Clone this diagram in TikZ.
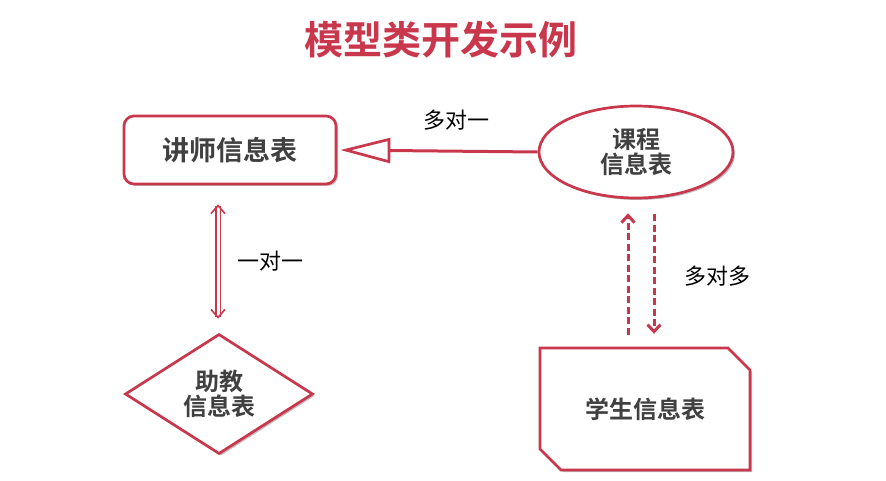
\documentclass[tikz,border=0pt]{standalone}
\usepackage{fontspec}
\setmainfont{Noto Sans CJK SC}
\newfontfamily\cjkb{Noto Sans CJK SC Bold}
\usetikzlibrary{shapes.geometric,arrows.meta,shadows}
\definecolor{myred}{HTML}{C9374C}
\definecolor{mygray}{HTML}{404040}
\tikzset{
  myshadow/.style={drop shadow={shadow xshift=2pt, shadow yshift=-2pt, opacity=0.25, fill=black}},
  entity/.style={draw=myred, line width=2.7pt, fill=white, text=mygray,
    font=\cjkb\fontsize{24}{27}\selectfont, align=center, inner sep=0pt, myshadow},
  lbl/.style={font=\fontsize{22}{24}\selectfont, text=black},
  link/.style={draw=myred, line width=3pt}
}
\begin{document}
\begin{tikzpicture}[x=1pt,y=-1pt]
\useasboundingbox (0,0) rectangle (886,481);
\node[font=\cjkb\fontsize{39}{40}\selectfont, text=myred] (title) at (441,40) {模型类开发示例};
\node[entity, rounded corners=10pt, minimum width=212pt, minimum height=68pt, font=\cjkb\fontsize{27}{30}\selectfont] (a) at (230,150) {讲师信息表};
\node[entity, ellipse, minimum width=194pt, minimum height=92pt] (b) at (636,152) {课程\\[-2pt]信息表};
\node[entity, diamond, minimum width=188pt, minimum height=120pt] (c) at (219,394) {助教\\[-2pt]信息表};
% student table: chamfered box
\path[draw=myred, line width=2.7pt, fill=white, myshadow]
  (540,348) -- (728,348) -- (750,370) -- (750,470) -- (561,470) -- (540,449) -- cycle;
\node[text=mygray, font=\cjkb\fontsize{24}{27}\selectfont, minimum width=210pt, minimum height=122pt, inner sep=0pt] (d) at (645,409) {学生信息表};
\draw[link, -{Triangle[open, length=50pt, width=25pt, fill=white, line width=2.7pt]}, shorten >=3pt] (b.west) -- (a.east);
\node[lbl] (l1) at (456,120) {多对一};
\draw[draw=myred, double=white, double distance=3pt, line width=1.6pt,
  {Straight Barb[length=8pt,width=14pt]}-{Straight Barb[length=8pt,width=14pt]}, shorten <=19pt, shorten >=14pt] (a.south -| 218,0) -- (c.north -| 218,0);
\node[lbl] (l2) at (270,261) {一对一};
\draw[link, dash pattern=on 7pt off 3.5pt, -{Straight Barb[length=7pt,width=13pt]}, shorten <=13pt, shorten >=14pt] (d.north -| 628,0) -- (b.south -| 628,0);
\draw[link, dash pattern=on 7pt off 3.5pt, -{Straight Barb[length=7pt,width=13pt]}, shorten <=15pt, shorten >=14pt] (b.south -| 654,0) -- (d.north -| 654,0);
\node[lbl] (l3) at (717,276) {多对多};
\end{tikzpicture}
\end{document}
